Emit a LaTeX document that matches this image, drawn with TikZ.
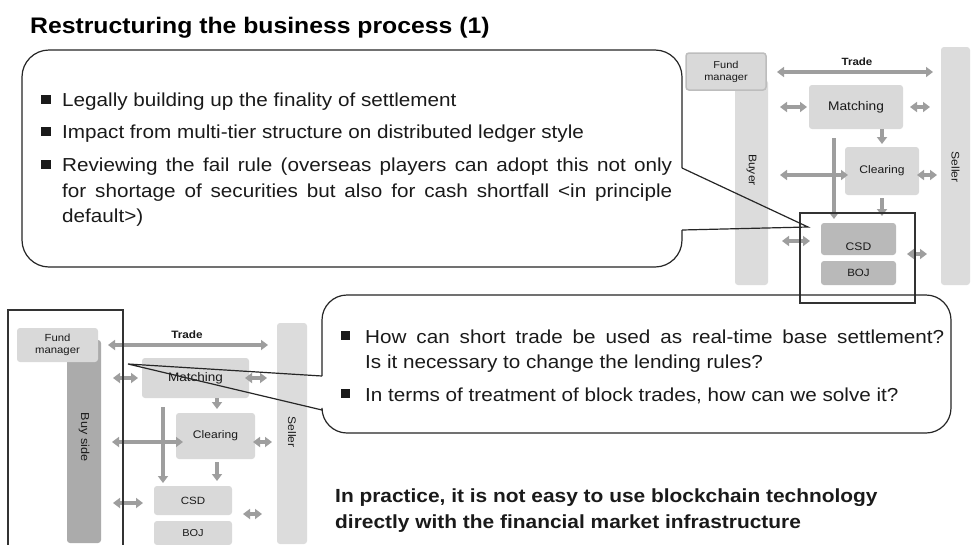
\documentclass[tikz,border=0pt]{standalone}
\usepackage{fontspec}
\setmainfont{Liberation Sans}[FakeStretch=1.1]
\usetikzlibrary{arrows.meta}
\definecolor{arr}{HTML}{9E9E9E}
\definecolor{lbox}{HTML}{D9D9D9}
\definecolor{dbox}{HTML}{B9B9B9}
\definecolor{bar}{HTML}{DCDCDC}
\definecolor{dbar}{HTML}{ABABAB}
\definecolor{fmline}{HTML}{BDBDBD}
\definecolor{ink}{HTML}{1A1A1A}
\begin{document}
\begin{tikzpicture}[x=1pt,y=-1pt,
  rbox/.style={rounded corners=3pt, inner sep=0pt, text=ink, align=center},
  ga/.style={draw=arr, line width=3.2pt, {Triangle[length=7pt,width=10pt]}-{Triangle[length=7pt,width=10pt]}},
  gd/.style={draw=arr, line width=3.2pt, -{Triangle[length=7pt,width=10pt]}},
  bul/.style={fill=ink, minimum size=9.5pt, inner sep=0pt},
  txt/.style={anchor=base west, inner sep=0pt, font=\fontsize{18.8}{22}\selectfont, text=ink},
  btxt/.style={anchor=base west, inner sep=0pt, font=\bfseries\fontsize{19}{22}\selectfont, text=ink},
  bubble/.style={draw=black!85, line width=1.2pt},
  frame/.style={draw=black!80, line width=1.8pt}
]
\useasboundingbox (0,0) rectangle (972,544);
\fill[white] (0,0) rectangle (972,544);

% title
\node[anchor=base west, inner sep=0pt, font=\bfseries\fontsize{22.5}{26}\selectfont] (title) at (30,33) {Restructuring the business process (1)};

% ===== top-right diagram =====
\node[rbox, fill=bar, minimum width=33pt, minimum height=205pt] (buyer) at (751.5,182.5) {};
\node[rotate=-90, font=\fontsize{11}{13}\selectfont, text=ink] (buyerl) at (751.5,170) {Buyer};
\node[rbox, fill=bar, minimum width=29pt, minimum height=238pt] (seller) at (955.5,166) {};
\node[rotate=-90, font=\fontsize{11}{13}\selectfont, text=ink] (sellerl) at (955.5,167) {Seller};
\node[rbox, fill=lbox, draw=fmline, line width=1.5pt, minimum width=80pt, minimum height=37pt, font=\fontsize{10}{12}\selectfont] (fm) at (726,71.5) {Fund\\manager};
\node[rbox, fill=lbox, minimum width=94pt, minimum height=44pt, font=\fontsize{12.5}{14}\selectfont] (mt) at (856,107) {Matching};
\node[rbox, fill=lbox, minimum width=74pt, minimum height=48pt, font=\fontsize{11}{13}\selectfont] (cl) at (882,171) {Clearing};
\node[rbox, fill=dbox, minimum width=75pt, minimum height=32pt] (csd) at (858.5,239) {};
\node[font=\fontsize{11}{13}\selectfont, text=ink] (csdl) at (858.5,247) {CSD};
\node[rbox, fill=dbox, minimum width=75pt, minimum height=24pt, font=\fontsize{10.5}{12}\selectfont] (boj) at (858.5,273) {BOJ};
\node[font=\bfseries\fontsize{10.5}{12}\selectfont, text=ink] (trl) at (857,62) {Trade};

\draw[ga, line width=4pt] (777,72) -- (933,72);
\draw[ga] (780,107) -- (807,107);
\draw[ga] (910,107) -- (930,107);
\draw[gd] (mt.south -| 882,0) -- (882,144);
\draw[gd] (834,138) -- (834,219);
\draw[ga] (780,175) -- (848,175);
\draw[ga] (917,175) -- (937,175);
\draw[gd] (882,198) -- (882,216);
\draw[ga] (782,241) -- (810,241);
\draw[ga] (907,254) -- (927,254);
\node[frame, minimum width=115pt, minimum height=90pt, inner sep=0pt] (fr1) at (857.5,258) {};

% ===== bottom-left diagram =====
\node[rbox, fill=dbar, minimum width=34pt, minimum height=203pt] (buys) at (84,441.5) {};
\node[rotate=-90, font=\fontsize{11.5}{13}\selectfont, text=ink] (buysl) at (84,437) {Buy side};
\node[rbox, fill=bar, minimum width=30pt, minimum height=221pt] (seller2) at (292,433.5) {};
\node[rotate=-90, font=\fontsize{11}{13}\selectfont, text=ink] (seller2l) at (292,432) {Seller};
\node[rbox, fill=lbox, minimum width=81pt, minimum height=34pt, font=\fontsize{10.3}{12}\selectfont] (fm2) at (57.5,345) {Fund\\manager};
\node[rbox, fill=lbox, minimum width=107pt, minimum height=40pt, font=\fontsize{12.3}{14}\selectfont] (mt2) at (195.5,378) {Matching};
\node[rbox, fill=lbox, minimum width=79pt, minimum height=46pt, font=\fontsize{11}{13}\selectfont] (cl2) at (215.5,436) {Clearing};
\node[rbox, fill=lbox, minimum width=78pt, minimum height=29pt, font=\fontsize{10.5}{12}\selectfont] (csd2) at (193,500.5) {CSD};
\node[rbox, fill=lbox, minimum width=78pt, minimum height=24pt, font=\fontsize{10}{12}\selectfont] (boj2) at (193,533) {BOJ};
\node[font=\bfseries\fontsize{10.7}{12}\selectfont, text=ink] (trl2) at (187,335) {Trade};

\draw[ga, line width=4pt] (108,345) -- (268,345);
\draw[ga] (113,378) -- (138,378);
\draw[ga] (245,378) -- (267,378);
\draw[gd] (217,398) -- (217,409);
\draw[gd] (163,407) -- (163,483);
\draw[ga] (112,442) -- (183,442);
\draw[ga] (253,442) -- (272,442);
\draw[gd] (217,462) -- (217,481);
\draw[ga] (113,503) -- (143,503);
\draw[ga] (243,514) -- (262,514);
\coordinate (f2a) at (8,560);
\coordinate (f2b) at (123,560);
\draw[frame] (f2a) -- (8,310) -- (123,310) -- (f2b);

% ===== top bubble =====
\coordinate (t1) at (682,168);
\coordinate (t2) at (682,230);
\coordinate (tip1) at (808,227);
\draw[bubble, rounded corners=27pt] (t1) -- (682,50) -- (22,50) -- (22,267) -- (682,267) -- (t2);
\draw[bubble] (t1) -- (tip1) -- (t2);

\node[bul] (b1) at (46,99.5) {};
\node[bul] (b2) at (46,131.5) {};
\node[bul] (b3) at (46,164.5) {};
\node[txt] (l1) at (62,106) {Legally building up the finality of settlement};
\node[txt] (l2) at (62,138) {Impact from multi-tier structure on distributed ledger style};
\node[txt] (l3) at (62,171) {\makebox[610pt][s]{Reviewing the fail rule (overseas players can adopt this not only}};
\node[txt] (l4) at (62,197) {\makebox[610pt][s]{for shortage of securities but also for cash shortfall <in principle}};
\node[txt] (l5) at (62,222) {default>)};

% ===== bottom bubble =====
\coordinate (u1) at (322,376);
\coordinate (u2) at (322,410);
\coordinate (tip2) at (128,364);
\draw[bubble, rounded corners=25pt] (u1) -- (322,295) -- (951,295) -- (951,433) -- (322,433) -- (u2);
\draw[bubble] (u1) -- (tip2) -- (u2);

\node[bul] (b4) at (345.5,335.5) {};
\node[bul] (b5) at (345.5,393.5) {};
\node[txt] (m1) at (365,343) {\makebox[579pt][s]{How can short trade be used as real-time base settlement?}};
\node[txt] (m2) at (365,368) {Is it necessary to change the lending rules?};
\node[txt] (m3) at (365,401) {In terms of treatment of block trades, how can we solve it?};

% ===== conclusion =====
\node[btxt] (c1) at (335,502) {In practice, it is not easy to use blockchain technology};
\node[btxt] (c2) at (335,528) {directly with the financial market infrastructure};
\end{tikzpicture}
\end{document}
